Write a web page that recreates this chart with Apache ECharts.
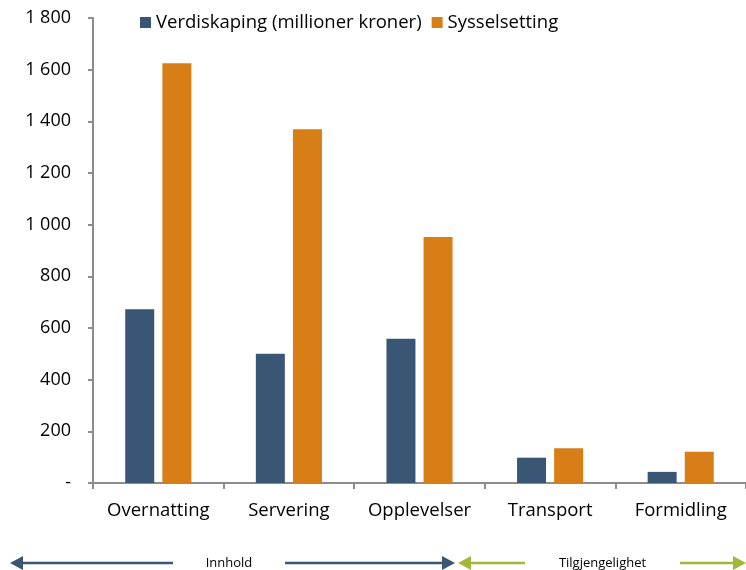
<!DOCTYPE html>
<html>
<head>
<meta charset="utf-8">
<script src="https://cdn.jsdelivr.net/npm/echarts@6/dist/echarts.min.js"></script>
<style>
  html, body { margin: 0; padding: 0; background: #fff; }
  #main { width: 746px; height: 570px; }
</style>
</head>
<body>
<div id="main"></div>
<script>
// kategorier og verdier lest av figuren
const categories = ['Overnatting', 'Servering', 'Opplevelser', 'Transport', 'Formidling'];
const verdiskaping = [673, 500, 558, 98, 43];
const sysselsetting = [1625, 1369, 952, 135, 121];
const seriesNames = ['Verdiskaping (millioner kroner)', 'Sysselsetting'];

const blue = '#3a5675';
const orange = '#d77e16';
const green = '#a3b83a';
const font = 'Open Sans, sans-serif';

function fmt(v) {
    if (v === 0) return '-';
    return String(v).replace(/\B(?=(\d{3})+(?!\d))/g, ' ');
}

// pil med tekst i midten
function arrow(x1, x2, y, gapL, gapR, color, text) {
    const els = [];
    els.push({type: 'line', shape: {x1: x1 + 10, y1: y, x2: gapL, y2: y}, style: {stroke: color, lineWidth: 2.5}});
    els.push({type: 'line', shape: {x1: gapR, y1: y, x2: x2 - 10, y2: y}, style: {stroke: color, lineWidth: 2.5}});
    els.push({type: 'polygon', shape: {points: [[x1, y], [x1 + 13, y - 7], [x1 + 13, y + 7]]}, style: {fill: color}});
    els.push({type: 'polygon', shape: {points: [[x2, y], [x2 - 13, y - 7], [x2 - 13, y + 7]]}, style: {fill: color}});
    els.push({type: 'text', x: (gapL + gapR) / 2, y: y, style: {text: text, fill: '#000', font: '13px ' + font, align: 'center', verticalAlign: 'middle'}});
    return els;
}

const myChart = echarts.init(document.getElementById('main'));
myChart.setOption({
    animation: false,
    backgroundColor: '#fff',
    textStyle: {fontFamily: font},
    legend: {
        data: seriesNames,
        left: 135,
        top: 8,
        itemWidth: 11,
        itemHeight: 11,
        itemGap: 10,
        icon: 'rect',
        textStyle: {fontSize: 18.5, color: '#000', fontFamily: font}
    },
    grid: {left: 93, right: 0, top: 18, bottom: 87, containLabel: false},
    xAxis: {
        type: 'category',
        data: categories,
        axisLine: {lineStyle: {color: '#8c8c8c', width: 2}},
        axisTick: {show: true, interval: 0, length: 6, lineStyle: {color: '#8c8c8c', width: 2}},
        axisLabel: {interval: 0, fontSize: 18.5, color: '#000', margin: 18, fontFamily: font}
    },
    yAxis: {
        type: 'value',
        min: 0,
        max: 1800,
        interval: 200,
        splitLine: {show: false},
        axisLine: {show: true, lineStyle: {color: '#8c8c8c', width: 2}},
        axisTick: {show: true, length: 5, lineStyle: {color: '#8c8c8c', width: 2}},
        axisLabel: {fontSize: 18, color: '#000', margin: 22, formatter: fmt, fontFamily: font}
    },
    series: [
        {
            name: seriesNames[0],
            type: 'bar',
            data: verdiskaping,
            barWidth: 29,
            barGap: '28%',
            itemStyle: {color: blue}
        },
        {
            name: seriesNames[1],
            type: 'bar',
            data: sysselsetting,
            barWidth: 29,
            itemStyle: {color: orange}
        }
    ],
    graphic: [].concat(
        arrow(10, 455, 563, 173, 285, blue, 'Innhold'),
        arrow(458, 746, 563, 525, 680, green, 'Tilgjengelighet')
    )
});
</script>
</body>
</html>
